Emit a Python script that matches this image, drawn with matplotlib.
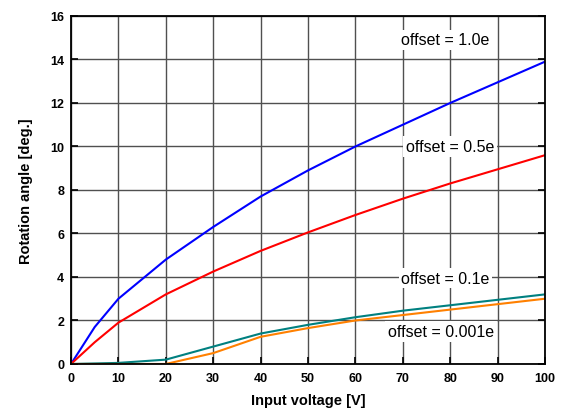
import matplotlib.pyplot as plt

voltage = [0, 5, 10, 20, 30, 40, 50, 60, 70, 80, 90, 100]
angle_1_0e = [0, 1.7, 3.0, 4.8, 6.3, 7.7, 8.9, 10.0, 11.0, 12.0, 12.95, 13.9]
angle_0_5e = [0, 1.0, 1.9, 3.2, 4.25, 5.2, 6.05, 6.85, 7.6, 8.3, 8.95, 9.6]

voltage_low = [0, 10, 20, 30, 40, 50, 60, 70, 80, 90, 100]
angle_0_1e = [0, 0.05, 0.2, 0.8, 1.4, 1.8, 2.15, 2.45, 2.7, 2.95, 3.2]
angle_0_001e = [0, 0, 0, 0.5, 1.25, 1.65, 2.0, 2.25, 2.5, 2.75, 3.0]

plt.rcParams['font.family'] = ['Liberation Sans', 'DejaVu Sans']

fig = plt.figure(figsize=(5.61, 4.14), dpi=100)
ax = fig.add_axes([0.1266, 0.1184, 0.8449, 0.8406])

ax.plot(voltage, angle_1_0e, color='#0000ff', lw=1.5)
ax.plot(voltage, angle_0_5e, color='#ff0000', lw=1.5)
ax.plot(voltage_low, angle_0_1e, color='#008080', lw=1.5)
ax.plot(voltage_low, angle_0_001e, color='#ff8000', lw=1.5)

ax.set_xlim(0, 100)
ax.set_ylim(0, 16)
ax.set_xticks(range(0, 101, 10))
ax.set_yticks(range(0, 17, 2))
ax.grid(True, color='#505050', lw=1.0)
ax.tick_params(direction='in', length=5, width=1.2, labelsize=9,
               right=True, top=False)
ax.tick_params(axis='x', pad=6)
ax.tick_params(axis='y', pad=5)
for lbl in ax.get_xticklabels() + ax.get_yticklabels():
    lbl.set_fontweight('bold')
for sp in ax.spines.values():
    sp.set_linewidth(1.3)

ax.set_xlabel('Input voltage [V]', fontsize=10.5, fontweight='bold', labelpad=6)
ax.set_ylabel('Rotation angle [deg.]', fontsize=10.5, fontweight='bold', labelpad=12)

box = dict(facecolor='white', edgecolor='none', pad=2)
labels = [('offset = 1.0e', 79, 14.9), ('offset = 0.5e', 80, 10.0),
          ('offset = 0.1e', 79, 3.95), ('offset = 0.001e', 78, 1.5)]
for text, x, y in labels:
    ax.text(x, y, text, fontsize=11.5, ha='center', va='center', bbox=box)

fig.savefig('out.png', dpi=100)
